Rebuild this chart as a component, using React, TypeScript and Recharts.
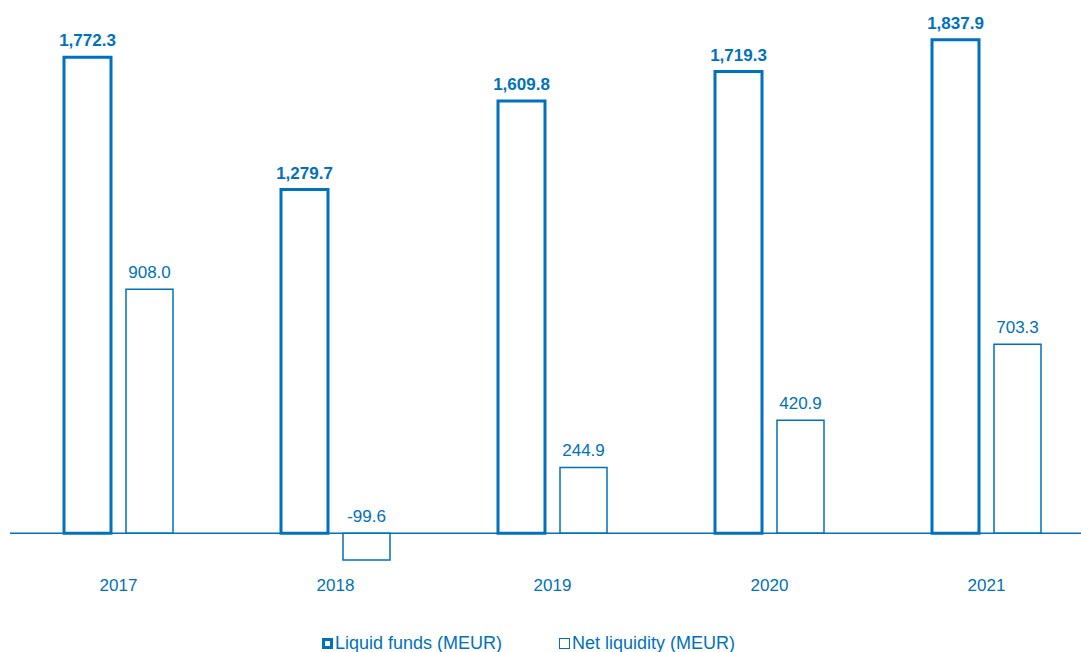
import React from 'react'
import { BarChart, Bar, XAxis, YAxis, ReferenceLine, LabelList, Legend } from 'recharts'

const years = ['2017', '2018', '2019', '2020', '2021']
const liquidFunds = [1772.3, 1279.7, 1609.8, 1719.3, 1837.9]
const netLiquidity = [908.0, -99.6, 244.9, 420.9, 703.3]

const BLUE = '#0071bd'
const FONT = '"Liberation Sans", Arial, sans-serif'

const data = years.map((year, i) => ({
  year,
  liquid: liquidFunds[i],
  net: netLiquidity[i],
}))

const fmt = (v: number) =>
  v.toLocaleString('en-US', { minimumFractionDigits: 1, maximumFractionDigits: 1 })

const makeLabel = (bold: boolean) => (props: any) => {
  const { x, y, width, height, value } = props
  const top = Math.min(Number(y), Number(y) + Number(height))
  return (
    <text
      x={Number(x) + Number(width) / 2}
      y={top - 11}
      textAnchor="middle"
      fill={BLUE}
      fontSize={17}
      fontWeight={bold ? 'bold' : 'normal'}
      fontFamily={FONT}
    >
      {fmt(Number(value))}
    </text>
  )
}

const LegendContent = () => (
  <div style={legendStyle}>
    <span style={{ ...iconStyle, border: `3px solid ${BLUE}` }} />
    <span>Liquid funds (MEUR)</span>
    <span style={{ width: 57 }} />
    <span style={{ ...iconStyle, border: `1.5px solid ${BLUE}` }} />
    <span>Net liquidity (MEUR)</span>
  </div>
)

export default function App() {
  return (
    <div style={ContainerStyle}>
      <BarChart
        width={1100}
        height={652}
        data={data}
        margin={{ top: 23, right: 5, left: 10, bottom: 30 }}
        barSize={47}
        barGap={15}
      >
        <XAxis
          dataKey="year"
          axisLine={false}
          tickLine={false}
          tickMargin={13}
          height={40}
          tick={{ fill: BLUE, fontSize: 17, fontFamily: FONT }}
        />
        <YAxis hide domain={[-100, 1900]} />
        <ReferenceLine y={0} stroke={BLUE} strokeWidth={1.5} />
        <Bar
          dataKey="liquid"
          name="Liquid funds (MEUR)"
          fill="#fff"
          stroke={BLUE}
          strokeWidth={3}
          isAnimationActive={false}
        >
          <LabelList dataKey="liquid" content={makeLabel(true)} />
        </Bar>
        <Bar
          dataKey="net"
          name="Net liquidity (MEUR)"
          fill="#fff"
          stroke={BLUE}
          strokeWidth={1.5}
          isAnimationActive={false}
        >
          <LabelList dataKey="net" content={makeLabel(false)} />
        </Bar>
        <Legend
          verticalAlign="bottom"
          content={<LegendContent />}
          wrapperStyle={{ top: 632, bottom: 'auto', left: 0, width: 1081, height: 22 }}
        />
      </BarChart>
    </div>
  )
}

const ContainerStyle: React.CSSProperties = {
  position: 'fixed',
  left: 0,
  top: 0,
  width: 1081,
  height: 652,
  overflow: 'hidden',
  background: '#fff',
}

const legendStyle: React.CSSProperties = {
  display: 'flex',
  alignItems: 'center',
  paddingLeft: 322,
  height: 22,
  color: BLUE,
  fontSize: 18,
  fontFamily: FONT,
}

const iconStyle: React.CSSProperties = {
  display: 'inline-block',
  width: 11,
  height: 11,
  boxSizing: 'border-box',
  marginRight: 2,
}
